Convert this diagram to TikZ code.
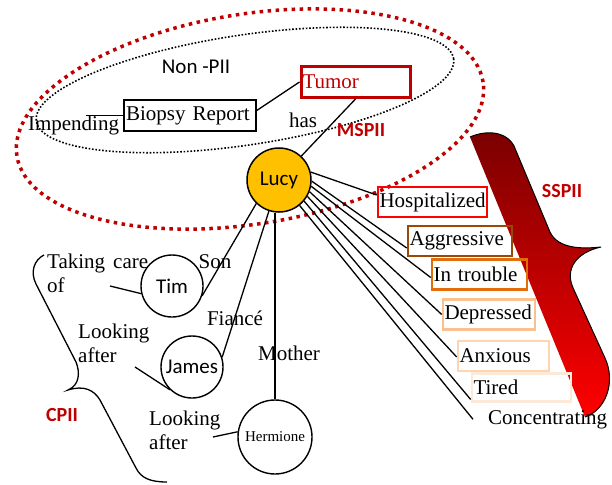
\documentclass[tikz,border=0pt]{standalone}
\usepackage{fontspec}
\setmainfont{Liberation Serif}
\setsansfont{Carlito}

\definecolor{piired}{HTML}{C00000}
\definecolor{hospred}{HTML}{FF0000}
\definecolor{aggrbrown}{HTML}{984807}
\definecolor{troubleorange}{HTML}{E46C0A}
\definecolor{deprpeach}{HTML}{FAC090}
\definecolor{anxpeach}{HTML}{FCD5B5}
\definecolor{tiredpeach}{HTML}{FDE9D9}
\definecolor{lucygold}{HTML}{FFC000}
\definecolor{bracetop}{HTML}{7A0000}
\definecolor{bracebot}{HTML}{FF0000}

\tikzset{
  serif/.style={font=\fontsize{21}{24}\selectfont, inner sep=0pt},
  sans/.style={font=\sffamily\fontsize{21}{24}\selectfont, inner sep=0pt},
  piitag/.style={font=\sffamily\bfseries\fontsize{20}{24}\selectfont, text=piired, inner sep=0pt},
  person/.style={circle, draw, line width=1.4pt, inner sep=0pt, font=\sffamily\fontsize{21}{24}\selectfont},
  statebox/.style={draw=#1, line width=2.6pt, align=left, inner xsep=1.5pt, inner ysep=0pt,
    minimum height=30pt, font=\fontsize{21}{24}\selectfont},
  link/.style={line width=1.3pt},
}

\begin{document}
\begin{tikzpicture}[x=1pt,y=-1pt]
  \useasboundingbox (0,0) rectangle (612,484);

  % PII regions
  \draw[piired, line width=3.5pt, dash pattern=on 3.5pt off 4.5pt, rotate around={9:(250,119)}]
      (250,119) ellipse [x radius=236pt, y radius=105pt];
  \draw[line width=1.6pt, dash pattern=on 1.6pt off 1.8pt, rotate around={8.5:(245,90)}]
      (245,90) ellipse [x radius=211pt, y radius=55pt];

  % SSPII brace
  \shade[top color=bracetop, bottom color=bracebot]
      (470,137) .. controls (486,130) and (506,131) .. (514,146) -- (550,232)
      .. controls (558,249) and (582,249) .. (601,247)
      .. controls (578,252) and (563,268) .. (574,290) -- (605,358)
      .. controls (616,382) and (606,410) .. (585,417) -- cycle;
  \draw[line width=1pt]
      (470,137) .. controls (486,130) and (506,131) .. (514,146) -- (550,232)
      .. controls (558,249) and (582,249) .. (601,247)
      .. controls (578,252) and (563,268) .. (574,290) -- (605,358)
      .. controls (616,382) and (606,410) .. (585,417);

  % CPII brace
  \draw[line width=1.3pt] (44,255) .. controls (34,260) and (30,272) .. (36,284) -- (76,362)
      .. controls (80,372) and (80,385) .. (68,390)
      .. controls (84,385) and (94,390) .. (100,400) -- (136,468)
      .. controls (141,478) and (150,482) .. (167,482);

  \node[sans, anchor=base] (nonpii) at (196,74) {Non -PII};
  \node[draw, line width=1.5pt, serif, align=left, text width=128pt, inner xsep=2pt,
        minimum height=31pt] (biopsy) at (190,115.5) {Biopsy Report};
  \node[statebox=piired, line width=3pt, text=piired, text width=106pt, minimum height=31pt]
      (tumor) at (355.5,82) {Tumor};
  \node[serif, anchor=base] (impending) at (73.5,130) {Impending};
  \node[serif, anchor=base] (has) at (303,128) {has};
  \node[piitag, anchor=base] (mspii) at (361,136) {MSPII};

  \node[person, fill=lucygold, minimum size=64pt, line width=1.5pt] (lucy) at (279,180) {Lucy};

  % SSPII states
  \node[statebox=hospred, text width=106pt] (hosp) at (432.5,202) {Hospitalized};
  \node[statebox=aggrbrown, text width=101pt] (aggr) at (460,241) {Aggressive};
  \node[statebox=troubleorange, text width=92pt] (trouble) at (479.5,274.5) {In trouble};
  \node[statebox=deprpeach, text width=89pt] (depr) at (489,314.5) {Depressed};
  \node[statebox=anxpeach, text width=88pt] (anx) at (503.5,356) {Anxious};
  \node[statebox=tiredpeach, text width=96pt, minimum height=28.5pt] (tired) at (521.5,387.5) {Tired};
  \node[serif, anchor=base west] (conc) at (488,424) {Concentrating};
  \node[piitag, anchor=base] (sspii) at (562,197) {SSPII};

  % CPII people
  \node[person, minimum size=62pt] (tim) at (172,286) {Tim};
  \node[person, minimum size=62pt] (james) at (192,367) {James};
  \node[person, minimum size=74pt, font=\fontsize{15}{18}\selectfont] (hermione) at (275,437) {Hermione};
  \node[serif, anchor=base] (son) at (215,268) {Son};
  \node[serif, anchor=base] (fiance) at (235,325) {Fiancé};
  \node[serif, anchor=base] (mother) at (289,360) {Mother};
  \node[serif, anchor=north west, align=left] (takecare) at (47,254) {\makebox[101pt][s]{Taking care}\\of};
  \node[serif, anchor=north west, align=left] (lookjames) at (78,324) {Looking\\after};
  \node[serif, anchor=north west, align=left] (lookherm) at (149,411) {Looking\\after};
  \node[piitag, anchor=base] (cpii) at (62,421) {CPII};
  \coordinate (carefrom) at (110,286);
  \coordinate (lookjfrom) at (135,367);
  \coordinate (lookhfrom) at (213,437);

  % connectors
  \draw[link] ([xshift=12pt]impending.center |- biopsy.west) -- (biopsy.west);
  \draw[link] ([yshift=5pt]biopsy.east) -- (tumor.west);
  \draw[link] (tumor.south) -- (lucy.47);
  \foreach \a/\b/\s in {14/hosp/7, -2/aggr/-7, -11/trouble/-3, -21/depr/0, -30/anx/-1, -40/tired/-12}
    \draw[link] (lucy.\a) -- ([yshift=\s pt]\b.west);
  \draw[link] (lucy.-51) -- ([xshift=-15pt]conc.west);
  \draw[link] (tim.-18) -- (lucy.226);
  \draw[link] (james.18) -- (lucy.252);
  \draw[link] (hermione.north) -- (hermione.north |- lucy.south);
  \draw[link] (carefrom) -- (tim.194);
  \draw[link] (lookjfrom) -- (james.226);
  \draw[link] (lookhfrom) -- (hermione.172);
\end{tikzpicture}
\end{document}
